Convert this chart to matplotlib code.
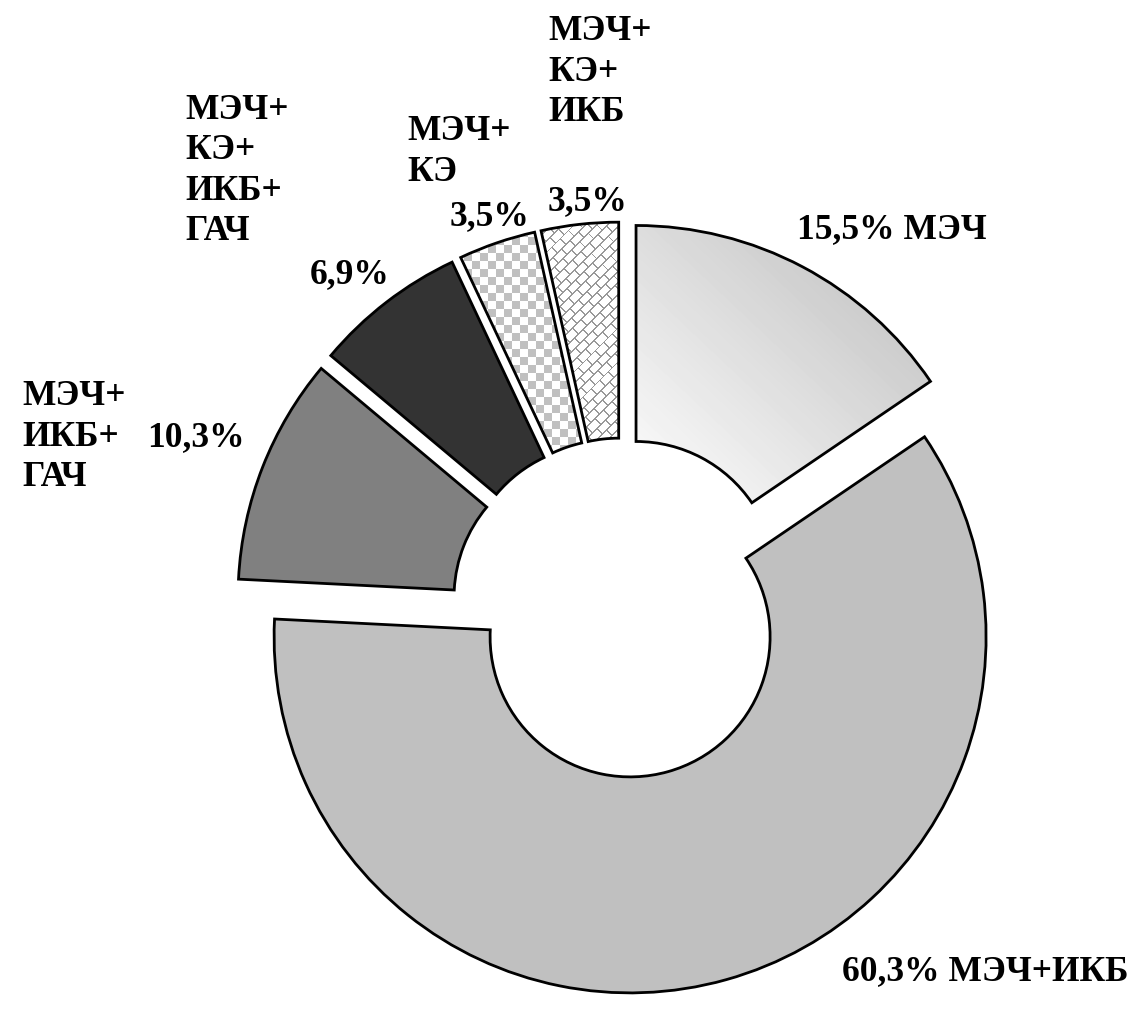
import matplotlib
matplotlib.use("Agg")
import matplotlib.pyplot as plt
import numpy as np

# shares, % (clockwise from 12 o'clock)
shares = [15.5, 60.3, 10.3, 6.9, 3.5, 3.5]
pct_text = ["15,5%", "60,3%", "10,3%", "6,9%", "3,5%", "3,5%"]
names = ["МЭЧ", "МЭЧ+ИКБ", "МЭЧ+\nИКБ+\nГАЧ", "МЭЧ+\nКЭ+\nИКБ+\nГАЧ", "МЭЧ+\nКЭ", "МЭЧ+\nКЭ+\nИКБ"]

W, H = 1134, 1013
fig = plt.figure(figsize=(W / 100, H / 100), dpi=100)
ax = fig.add_axes([0, 0, 1, 1])

cx, cy = 622, H - 608
R = 356
fills = ["none", "#c0c0c0", "#808080", "#333333", "none", "none"]

wedges, _ = ax.pie(shares, startangle=90, counterclock=False, center=(cx, cy),
                   radius=R, explode=[30] * len(shares), colors=fills,
                   wedgeprops=dict(width=216, edgecolor="black", linewidth=2))


# pattern fill clipped to a wedge (data units = pixels here)
def pattern_fill(wedge, make, interp="bilinear"):
    bb = wedge.get_path().get_extents()
    x0, y0 = int(bb.x0) - 5, int(bb.y0) - 5
    nx, ny = int(bb.width) + 10, int(bb.height) + 10
    yy, xx = np.mgrid[0:ny, 0:nx]
    img = make(xx + x0, yy + y0, nx, ny)
    im = ax.imshow(img, extent=(x0, x0 + nx, y0, y0 + ny), origin="lower",
                   cmap="gray", vmin=0, vmax=1, interpolation=interp, zorder=0.5)
    im.set_clip_path(wedge)


# 15.5%: light at lower left, grey at upper right
def gradient(xx, yy, nx, ny):
    g = ((xx - xx.min()) / nx + (yy - yy.min()) / ny) / 2
    return 1.0 - 0.27 * g


# 3.5% МЭЧ+КЭ: checkerboard
def checker(xx, yy, nx, ny):
    return np.where(((xx // 8) + (yy // 8)) % 2 == 0, 0.75, 1.0)


# 3.5% МЭЧ+КЭ+ИКБ: diagonal bricks
def bricks(xx, yy, nx, ny):
    u = (xx + yy) / np.sqrt(2)
    v = (xx - yy) / np.sqrt(2)
    row = np.floor(v / 8).astype(int)
    lines = (v % 8) < 1.3
    conn = ((u + (row % 2) * 6) % 12) < 1.3
    return np.where(lines | conn, 0.6, 1.0)


pattern_fill(wedges[0], gradient)
pattern_fill(wedges[4], checker, "nearest")
pattern_fill(wedges[5], bricks)

for w in wedges:
    w.set_zorder(1)

ax.set_xlim(0, W)
ax.set_ylim(0, H)
ax.set_aspect("equal")
ax.axis("off")

font = dict(family="Liberation Serif", fontweight="bold", fontsize=25.5, color="black")
sp = 1.30

# one-line labels
ax.text(797, H - 230, pct_text[0] + " " + names[0], ha="left", va="center", **font)
ax.text(842, H - 972, pct_text[1] + " " + names[1], ha="left", va="center", **font)

# stacked labels: name block and percentage separately
name_pos = [None, None, (22, 437), (185, 171), (407, 152), (548, 72)]
pct_pos = [None, None, (147, 438), (310, 275), (450, 217), (548, 202)]
for i in range(2, len(shares)):
    x, y = name_pos[i]
    ax.text(x, H - y, names[i], ha="left", va="center", linespacing=sp, **font)
    x, y = pct_pos[i]
    ax.text(x, H - y, pct_text[i], ha="left", va="center", **font)

fig.savefig("out.png", dpi=100, facecolor="white")
